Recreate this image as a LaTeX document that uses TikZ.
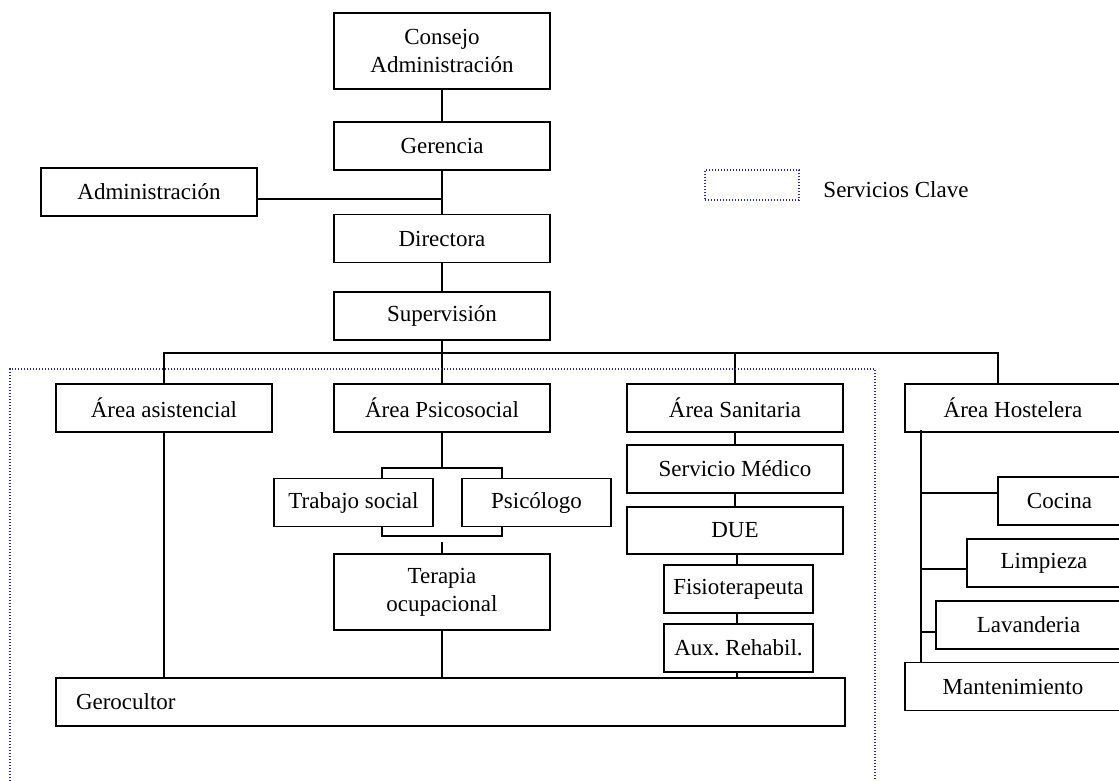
\documentclass[tikz,border=0pt]{standalone}
\usepackage{fontspec}
\setmainfont{Liberation Serif}
\definecolor{keyblue}{RGB}{45,45,150}
\begin{document}
\begin{tikzpicture}[x=0.5pt,y=-0.5pt,line width=0.8pt,
    font=\fontsize{11.5}{14}\selectfont,
    box/.style={draw,fill=white,inner sep=0pt,minimum width=108pt,minimum height=24pt,align=center},
    clave/.style={draw=keyblue,line width=0.7pt,dash pattern=on 0.6pt off 0.9pt}]
  \useasboundingbox (0,0) rectangle (1119,781);

  % direccion
  \node[box,minimum height=38pt] (consejo) at (442,51) {Consejo\\Administración};
  \node[box] (gerencia) at (442,146) {Gerencia};
  \node[box] (admin) at (149,192) {Administración};
  \node[box] (directora) at (442,238.5) {Directora};
  \node[box] (supervision) at (442,316) {Supervisión};

  % areas
  \node[box] (asistencial) at (164,408) {Área asistencial};
  \node[box] (psicosocial) at (442,408) {Área Psicosocial};
  \node[box] (sanitaria) at (735,408) {Área Sanitaria};
  \node[box] (hostelera) at (1013,408) {Área Hostelera};

  \node[box,minimum width=79.5pt] (trabajo) at (353.5,502.5) {Trabajo social};
  \node[box,minimum width=74.5pt] (psicologo) at (536.5,502.5) {Psicólogo};
  \node[box,minimum height=38pt] (terapia) at (442,592) {Terapia\\ocupacional};

  \node[box] (medico) at (735,469) {Servicio Médico};
  \node[box,minimum height=23.5pt] (due) at (735,530.5) {DUE};
  \node[box,minimum width=74.5pt] (fisio) at (738.5,589) {Fisioterapeuta};
  \node[box,minimum width=74.5pt] (aux) at (738.5,648) {Aux.\ Rehabil.};

  \node[box,text width=374.5pt,align=left,inner xsep=10pt] (gerocultor) at (450.5,702) {Gerocultor};

  \node[box,minimum width=61.5pt] (cocina) at (1059.5,501) {Cocina};
  \node[box,minimum width=77pt] (limpieza) at (1044,563) {Limpieza};
  \node[box,minimum width=92.5pt] (lavanderia) at (1028.5,625) {Lavanderia};
  \node[box] (mantenimiento) at (1013,686.5) {Mantenimiento};

  % lineas
  \coordinate (adm) at (442,199);
  \coordinate (bus) at (998,353);
  \coordinate (ps) at (442,468);
  \coordinate (tp) at (442,542);
  \coordinate (hx) at (921,430);
  \coordinate (sx) at (737,0);

  \draw (consejo) -- (gerencia);
  \draw (gerencia) -- (directora);
  \draw (admin.east |- adm) -- (adm);
  \draw (directora) -- (supervision);

  \draw (supervision.south) -- (supervision.south |- bus);
  \draw (asistencial.north) |- (bus) -- (hostelera.north -| bus);
  \foreach \n in {psicosocial,sanitaria}
    \draw (\n.north) -- (\n.north |- bus);

  \draw (psicosocial.south) -- (ps);
  \draw (trabajo.north -| 382,0) |- (ps) -| (psicologo.north -| 502,0);
  \draw (trabajo.south -| 382,0) |- (502,536) -- (psicologo.south -| 502,0);
  \draw (tp) -- (terapia.north);
  \draw (terapia.south) -- (terapia.south |- gerocultor.north);
  \draw (asistencial.south) -- (asistencial.south |- gerocultor.north);

  \draw (sanitaria) -- (medico);
  \draw (medico) -- (due);
  \draw (sx |- due.south) -- (sx |- fisio.north);
  \draw (sx |- fisio.south) -- (sx |- aux.north);
  \draw (sx |- aux.south) -- (sx |- gerocultor.north);

  \draw (hx) -- (hx |- mantenimiento.north);
  \foreach \n/\y in {cocina/493,limpieza/569,lavanderia/632}
    \draw (hx |- 0,\y) -- (\n.west |- 0,\y);

  % servicios clave
  \draw[clave] (10,790) -- (10,369) -- (875,369) -- (875,790);
  \node[clave,minimum width=47pt,minimum height=15pt] (leyenda) at (752,185) {};
  \node[anchor=west] (clavetxt) at (816,190) {Servicios Clave};
\end{tikzpicture}
\end{document}
